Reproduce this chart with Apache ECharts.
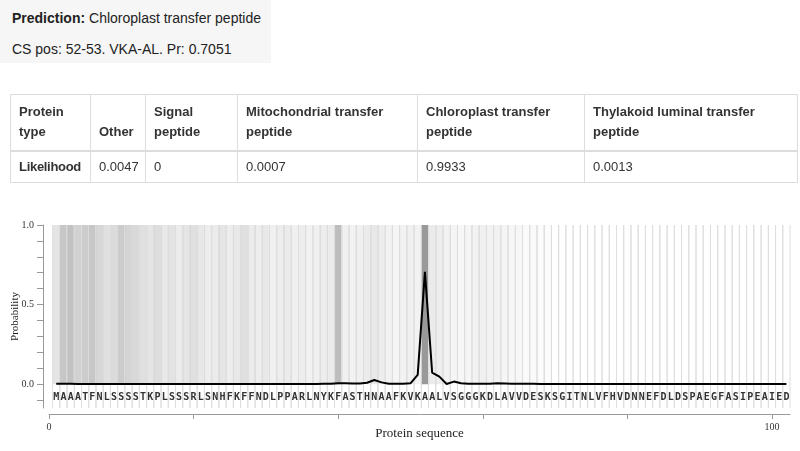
<!DOCTYPE html>
<html>
<head>
<meta charset="utf-8">
<script src="https://cdn.jsdelivr.net/npm/echarts@6/dist/echarts.min.js"></script>
<style>
  body { margin: 0; width: 800px; height: 451px; background: #fff; position: relative; overflow: hidden;
         font-family: "Liberation Sans", Arial, sans-serif; color: #333; }
  #chart { position: absolute; left: 0; top: 0; width: 800px; height: 451px; }
  #pred { position: absolute; left: 0; top: 0; width: 271px; height: 63px; background: #f6f6f6;
          font-size: 14px; color: #222; }
  #pred div { position: absolute; left: 12px; }
  table { position: absolute; left: 10px; top: 94px; width: 787px; border-collapse: collapse; table-layout: fixed;
          font-size: 13px; color: #333; }
  th, td { border: 1px solid #ddd; padding: 5px 8px; line-height: 20px; text-align: left; overflow: visible; white-space: normal; }
  th { vertical-align: bottom; padding: 7px 8px 8px; border-bottom: 2px solid #ddd; }
  td.b { font-weight: bold; letter-spacing: -0.3px; }
</style>
</head>
<body>
<div id="chart"></div>
<div id="pred">
  <div style="top:10px"><b>Prediction:</b> Chloroplast transfer peptide</div>
  <div style="top:41px">CS pos: 52-53. VKA-AL. Pr: 0.7051</div>
</div>
<table id="tbl"></table>
<script>
// table content
const typeHeaders = ['Protein type', 'Other', 'Signal peptide', 'Mitochondrial transfer peptide',
  'Chloroplast transfer peptide', 'Thylakoid luminal transfer peptide'];
const likelihoods = ['0.0047', '0', '0.0007', '0.9933', '0.0013'];
const colWidths = [80, 55, 92, 180, 167, 213];

// plot data, one entry per residue
const sequence = 'MAAATFNLSSSSTKPLSSSRLSNHFKFFNDLPPARLNYKFASTHNAAFKVKAALVSGGGKDLAVVDESKSGITNLVFHVDNNEFDLDSPAEGFASIPEAIED'.split('');
const probs = [
  0.002, 0.002, 0.002, 0.001, 0.001, 0.001, 0.001, 0.001, 0.001, 0.001,
  0.001, 0.001, 0.001, 0.001, 0.001, 0.001, 0.001, 0.001, 0.001, 0.001,
  0.001, 0.001, 0.001, 0.001, 0.001, 0.001, 0.001, 0.001, 0.001, 0.001,
  0.001, 0.001, 0.001, 0.001, 0.001, 0.001, 0.001, 0.002, 0.003, 0.006,
  0.005, 0.004, 0.004, 0.009, 0.026, 0.011, 0.003, 0.002, 0.003, 0.005,
  0.058, 0.7051, 0.073, 0.047, 0.001, 0.016, 0.006, 0.002, 0.002, 0.002,
  0.003, 0.005, 0.004, 0.003, 0.002, 0.003, 0.002, 0.001, 0.001, 0.001,
  0.001, 0.001, 0.001, 0.001, 0.001, 0.001, 0.001, 0.001, 0.001, 0.001,
  0.001, 0.001, 0.001, 0.001, 0.001, 0.001, 0.001, 0.001, 0.001, 0.001,
  0.001, 0.001, 0.001, 0.001, 0.001, 0.001, 0.001, 0.001, 0.001, 0.001,
  0.001, 0.001
];
// background shading per residue (0 = white)
const shade = [
  0.10, 0.22, 0.24, 0.18, 0.20, 0.22, 0.16, 0.12, 0.14, 0.20,
  0.17, 0.15, 0.12, 0.10, 0.13, 0.09, 0.11, 0.08, 0.10, 0.12,
  0.09, 0.07, 0.08, 0.10, 0.07, 0.09, 0.12, 0.08, 0.07, 0.09,
  0.06, 0.07, 0.08, 0.06, 0.07, 0.05, 0.06, 0.07, 0.08, 0.26,
  0.06, 0.05, 0.06, 0.08, 0.09, 0.07, 0.05, 0.04, 0.05, 0.06,
  0.05, 0.40, 0.08, 0.07, 0.05, 0.04, 0.03, 0.04, 0.05, 0.06,
  0.05, 0.05, 0.04, 0.03, 0.03, 0.02, 0.02, 0.01, 0.01, 0.00,
  0.00, 0.00, 0.00, 0.00, 0.00, 0.00, 0.00, 0.00, 0.00, 0.00,
  0.00, 0.00, 0.00, 0.00, 0.00, 0.00, 0.00, 0.00, 0.00, 0.00,
  0.00, 0.00, 0.00, 0.00, 0.00, 0.00, 0.00, 0.00, 0.00, 0.00,
  0.00, 0.00
];
const yTicks = [-0.1, 0, 0.1, 0.2, 0.3, 0.4, 0.5, 0.6, 0.7, 0.8, 0.9, 1.0];
const yLabels = [0, 0.5, 1.0];
const xTicks = [0, 20, 40, 60, 80, 100];
const xLabels = [0, 100];

// build table
const tbl = document.getElementById('tbl');
let html = '<colgroup>' + colWidths.map(w => `<col style="width:${w}px">`).join('') + '</colgroup>';
html += '<tr>' + typeHeaders.map(h => `<th>${h}</th>`).join('') + '</tr>';
html += '<tr><td class="b">Likelihood</td>' + likelihoods.map(v => `<td>${v}</td>`).join('') + '</tr>';
tbl.innerHTML = html;

const chart = echarts.init(document.getElementById('chart'));
const pos = sequence.map((aa, i) => i + 1);
const serif = '"Liberation Serif", "Times New Roman", serif';

const option = {
  animation: false,
  grid: { left: 49, right: 10, top: 225, bottom: 43, outerBoundsMode: 'none' },
  xAxis: {
    type: 'value', min: 0, max: 102.5, offset: 6,
    name: 'Protein sequence', nameLocation: 'middle', nameGap: 13, nameMoveOverlap: false,
    nameTextStyle: { fontFamily: serif, fontSize: 13, color: '#222' },
    axisLine: { show: true, onZero: false, lineStyle: { color: '#999', width: 1 } },
    axisTick: { show: true, customValues: xTicks, length: 5, lineStyle: { color: '#999' } },
    axisLabel: { customValues: xLabels, margin: 8, fontFamily: serif, fontSize: 10, color: '#333' },
    splitLine: { show: false }
  },
  yAxis: {
    type: 'value', min: -0.15, max: 1, offset: 6,
    name: 'Probability', nameLocation: 'middle', nameGap: 22, nameMoveOverlap: false,
    nameTextStyle: { fontFamily: serif, fontSize: 11, color: '#222' },
    axisLine: { show: true, onZero: false, lineStyle: { color: '#999', width: 1 } },
    axisTick: { show: true, customValues: yTicks, length: 6, lineStyle: { color: '#999' } },
    axisLabel: { customValues: yLabels, margin: 9, fontFamily: serif, fontSize: 10, color: '#333',
                 formatter: v => v.toFixed(1) },
    splitLine: { show: false }
  },
  series: [
    {
      type: 'custom', z: 1, silent: true,
      data: pos.map((p, i) => [p, shade[i]]),
      renderItem: (params, api) => {
        const x = api.value(0);
        const a = api.coord([x - 0.5, 1]);
        const b = api.coord([x + 0.5, 0]);
        const top = api.coord([x, 1])[1];
        const bot = api.coord([x, -0.15])[1];
        return {
          type: 'group',
          children: [
            { type: 'rect', shape: { x: a[0], y: a[1], width: b[0] - a[0], height: b[1] - a[1] },
              style: { fill: `rgba(0,0,0,${api.value(1)})` } },
            { type: 'line', shape: { x1: a[0], y1: top, x2: a[0], y2: bot },
              style: { stroke: '#dedede', lineWidth: 1 } },
            { type: 'line', shape: { x1: b[0], y1: top, x2: b[0], y2: bot },
              style: { stroke: '#dedede', lineWidth: 1 } }
          ]
        };
      }
    },
    {
      type: 'custom', z: 3, silent: true,
      data: pos.map((p, i) => [p, 0]),
      renderItem: (params, api) => {
        const c = api.coord([api.value(0), -0.085]);
        return {
          type: 'text', x: c[0], y: c[1],
          style: { text: sequence[params.dataIndex], fill: '#333', align: 'center', verticalAlign: 'middle',
                   font: 'bold 10px "DejaVu Sans Mono", monospace' }
        };
      }
    },
    {
      type: 'line', z: 5, symbol: 'none',
      data: pos.map((p, i) => [p, probs[i]]),
      lineStyle: { color: '#000', width: 2 }
    }
  ]
};
chart.setOption(option);
</script>
</body>
</html>
